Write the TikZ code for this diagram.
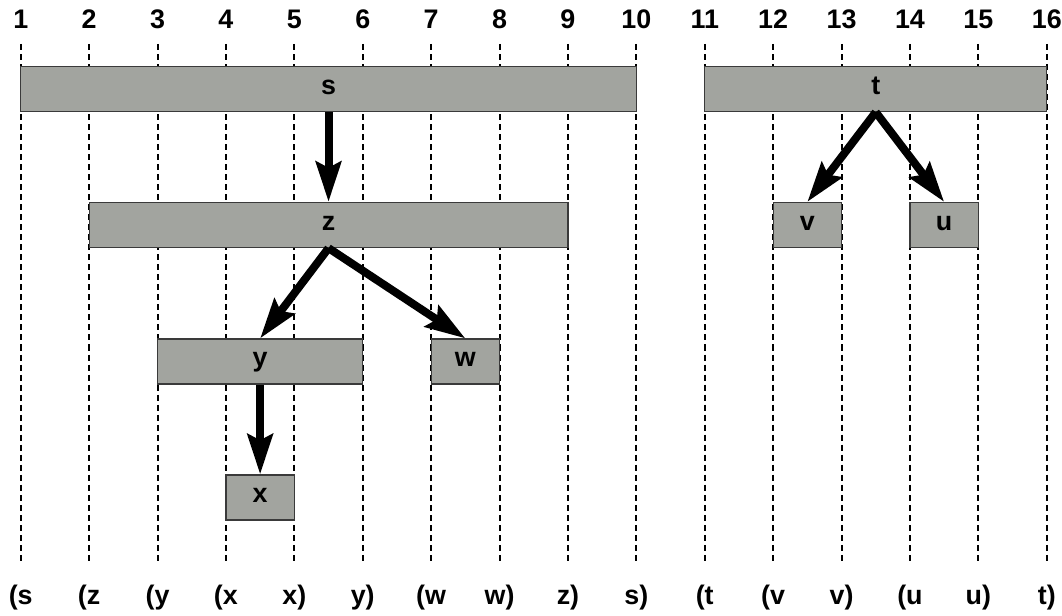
\documentclass[tikz,border=0pt]{standalone}
\usepackage{fontspec}
\setmainfont{Liberation Sans}
\usetikzlibrary{arrows.meta}
\definecolor{intfill}{HTML}{A2A49F}
\definecolor{intedge}{HTML}{3A3A3A}

\begin{document}
\begin{tikzpicture}[
  x=1.2cm,
  y=-0.17544cm,
  every node/.style={font=\fontsize{13.4}{15}\selectfont\bfseries, black},
  guide/.style={black, line width=1pt, dash pattern=on 3pt off 2pt},
  interval/.style={draw=intedge, fill=intfill, line width=0.6pt,
    minimum width=#1*1.2cm, minimum height=0.79cm,
    text height=1ex, text depth=0pt, inner sep=0pt},
  nest/.style={black, line width=4pt,
    -{Stealth[length=20pt, width=12.5pt, inset=3pt]}}
]
  % ---- page frame -------------------------------------------------------
  \useasboundingbox (0.697,0) rectangle (16.223,61.5);

  % ---- positions 1..16 and their dashed rules ---------------------------
  \foreach \i in {1,...,16} {
    \node (c\i) at (\i,1.9) {\i};
    \draw[guide] (\i,4.4) -- (\i,56.2);
  }

  % ---- parenthesis string along the bottom ------------------------------
  \foreach \i/\p in {1/{(s}, 2/{(z}, 3/{(y}, 4/{(x}, 5/{x)}, 6/{y)},
                     7/{(w}, 8/{w)}, 9/{z)}, 10/{s)}, 11/{(t}, 12/{(v},
                     13/{v)}, 14/{(u}, 15/{u)}, 16/{t)}}
    \node (e\i) at (\i,59.8) {\p};

  % ---- intervals of the first tree --------------------------------------
  \node[interval=9] (int-s) at (5.5,8.9)   {s};
  \node[interval=7] (int-z) at (5.5,22.5)  {z};
  \node[interval=3] (int-y) at (4.5,36.15) {y};
  \node[interval=1] (int-w) at (7.5,36.15) {w};
  \node[interval=1] (int-x) at (4.5,49.75) {x};

  % ---- intervals of the second tree -------------------------------------
  \node[interval=5] (int-t) at (13.5,8.9)  {t};
  \node[interval=1] (int-v) at (12.5,22.5) {v};
  \node[interval=1] (int-u) at (14.5,22.5) {u};

  % ---- nesting arrows ---------------------------------------------------
  \draw[nest] (int-s.south) -- (int-z.north);
  \draw[nest] (int-z.south) -- (int-y.north);
  \draw[nest] (int-z.south) -- (int-w.north);
  \draw[nest] (int-y.south) -- (int-x.north);
  \draw[nest] (int-t.south) -- (int-v.north);
  \draw[nest] (int-t.south) -- (int-u.north);
\end{tikzpicture}
\end{document}
